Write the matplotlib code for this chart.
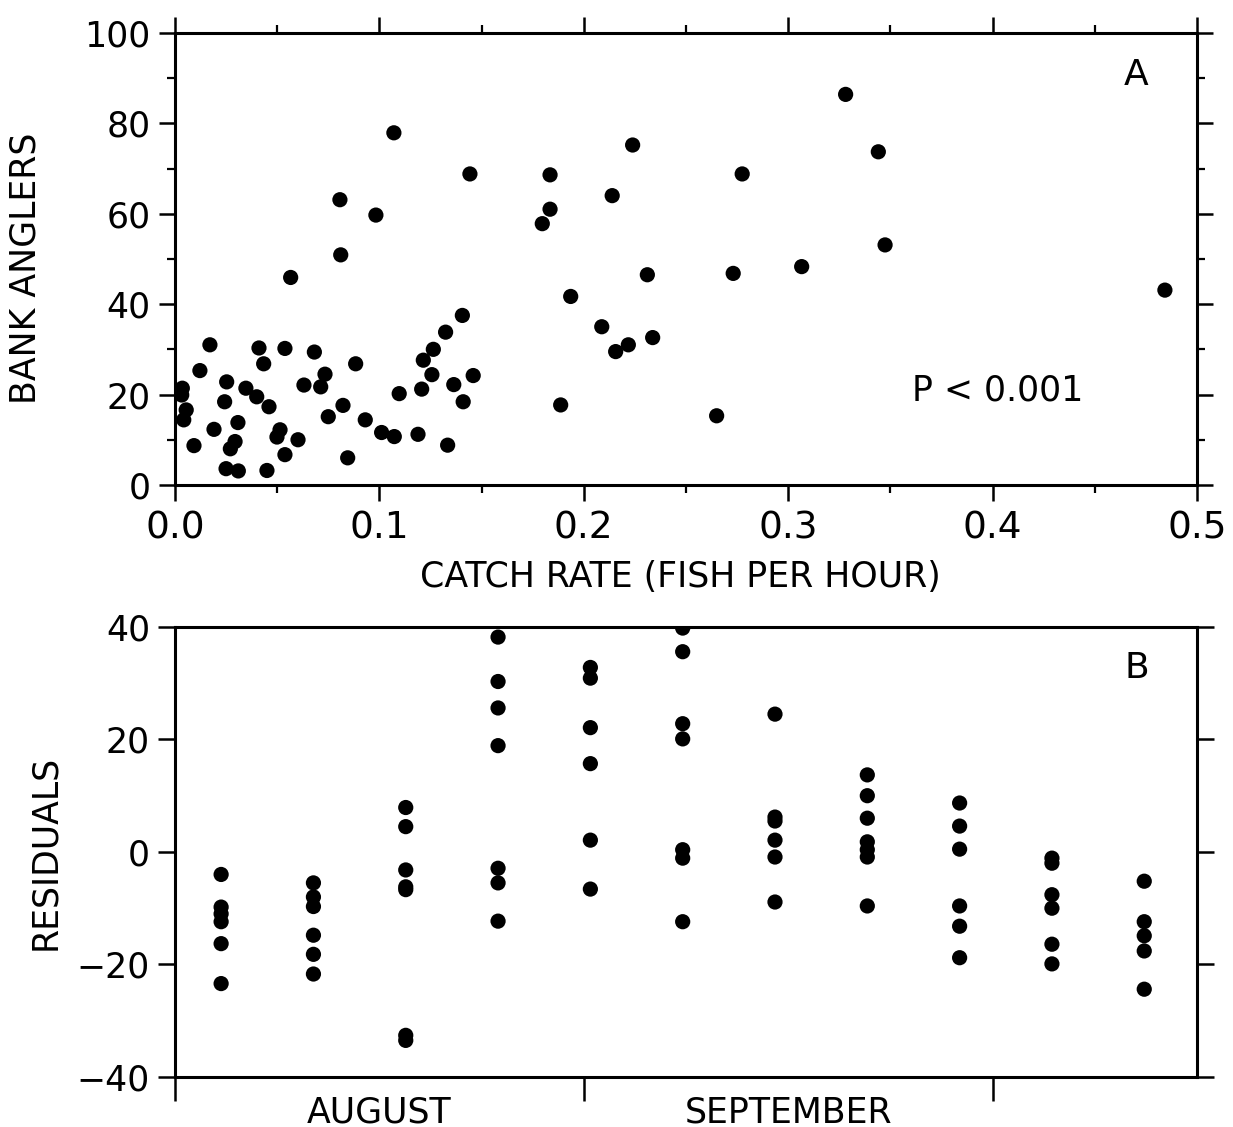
import matplotlib.pyplot as plt
from matplotlib.ticker import MultipleLocator

# Panel A: catch rate (fish per hour) vs number of bank anglers
catch_rate = [0.0811, 0.0566, 0.1406, 0.1324, 0.1264, 0.0171, 0.0122, 0.0411, 0.0538, 0.0682,
              0.0434, 0.0884, 0.1215, 0.0253, 0.0734, 0.0713, 0.0631, 0.0347, 0.0400, 0.0036,
              0.0033, 0.1257, 0.1459, 0.1364, 0.1207, 0.1097, 0.1410, 0.0822, 0.0460, 0.0243,
              0.0055, 0.0043, 0.0308, 0.0750, 0.0931, 0.0191, 0.0514, 0.0499, 0.0602, 0.1011,
              0.1073, 0.1189, 0.1334, 0.0294, 0.0271, 0.0093, 0.0538, 0.0845, 0.0250, 0.0310,
              0.0450, 0.0807, 0.1071, 0.0983, 0.1443,
              0.3281, 0.3441, 0.2239, 0.2775, 0.1835, 0.2139, 0.1835, 0.1797, 0.3474, 0.2311,
              0.2731, 0.3066, 0.1936, 0.2088, 0.2218, 0.2156, 0.2337, 0.1887, 0.2650, 0.4843]
bank_anglers = [50.9, 45.9, 37.5, 33.8, 30.0, 31.0, 25.3, 30.3, 30.2, 29.4,
                26.8, 26.8, 27.6, 22.8, 24.5, 21.7, 22.1, 21.4, 19.5, 21.4,
                19.9, 24.4, 24.2, 22.2, 21.2, 20.2, 18.4, 17.6, 17.3, 18.4,
                16.6, 14.4, 13.8, 15.1, 14.4, 12.3, 12.2, 10.6, 10.0, 11.6,
                10.7, 11.2, 8.8, 9.6, 8.0, 8.7, 6.7, 6.0, 3.6, 3.1,
                3.2, 63.1, 77.9, 59.7, 68.8,
                86.4, 73.7, 75.2, 68.8, 68.6, 64.0, 61.0, 57.8, 53.1, 46.5,
                46.8, 48.3, 41.7, 35.0, 31.0, 29.5, 32.6, 17.7, 15.3, 43.1]

# Panel B: residuals by week (day counted from 1 August)
week_day = [3.5, 10.5, 17.5, 24.5, 31.5, 38.5, 45.5, 52.5, 59.5, 66.5, 73.5]
residuals = [
    [-4.0, -9.8, -11.0, -12.4, -16.3, -23.4],
    [-5.5, -8.0, -9.7, -14.8, -18.2, -21.7],
    [7.9, 4.5, -3.2, -6.2, -6.7, -32.6, -33.5],
    [38.2, 30.3, 25.6, 18.9, -2.9, -5.5, -12.3],
    [32.8, 30.9, 22.1, 15.7, 2.1, -6.6],
    [39.8, 35.6, 22.8, 20.1, 0.4, -1.1, -12.4],
    [24.5, 6.2, 5.5, 2.1, -0.9, -8.9],
    [13.7, 10.0, 6.0, 1.8, 0.4, -0.9, -9.6],
    [8.7, 4.6, 0.5, -9.6, -13.2, -18.8],
    [-1.1, -2.0, -7.6, -10.0, -16.4, -19.9],
    [-5.2, -12.4, -14.9, -17.6, -24.4],
]
month_ticks = [0, 31, 62]
month_names = ['AUGUST', 'SEPTEMBER']
month_mid = [15.5, 46.5]

plt.rcParams['font.family'] = 'DejaVu Sans'

fig = plt.figure(figsize=(12.33, 11.27), dpi=100)
ax1 = fig.add_axes([0.1419, 0.5697, 0.8289, 0.4011])
ax2 = fig.add_axes([0.1419, 0.0444, 0.8289, 0.3993])

for ax in (ax1, ax2):
    for sp in ax.spines.values():
        sp.set_linewidth(2.2)

# --- panel A ---
ax1.scatter(catch_rate, bank_anglers, s=120, color='black', edgecolors='none', zorder=3)
ax1.set_xlim(0, 0.5)
ax1.set_ylim(0, 100)
ax1.xaxis.set_minor_locator(MultipleLocator(0.05))
ax1.yaxis.set_major_locator(MultipleLocator(20))
ax1.yaxis.set_minor_locator(MultipleLocator(10))
ax1.set_xticks([0, 0.1, 0.2, 0.3, 0.4, 0.5], ['0.0', '0.1', '0.2', '0.3', '0.4', '0.5'])
ax1.tick_params(axis='both', which='major', direction='out', length=11.5, width=1.8,
                top=True, right=True)
ax1.tick_params(axis='both', which='minor', direction='out', length=6, width=1.6,
                top=True, right=True)
ax1.tick_params(axis='x', labelsize=27, pad=7)
ax1.tick_params(axis='y', labelsize=25, pad=6)
ax1.set_xlabel('CATCH RATE (FISH PER HOUR)', fontsize=25)
ax1.xaxis.set_label_coords(0.495, -0.165)
ax1.set_ylabel('BANK ANGLERS', fontsize=25)
ax1.yaxis.set_label_coords(-0.13, 0.48)
ax1.text(0.47, 90.7, 'A', fontsize=26, ha='center', va='center')
ax1.text(0.4027, 21, 'P < 0.001', fontsize=25, ha='center', va='center')

# --- panel B ---
for d, vals in zip(week_day, residuals):
    ax2.scatter([d] * len(vals), vals, s=120, color='black', edgecolors='none', zorder=3)
ax2.set_xlim(0, 77.5)
ax2.set_ylim(-40, 40)
ax2.set_yticks([-40, -20, 0, 20, 40], ['\u221240', '\u221220', '0', '20', '40'])
ax2.set_xticks(month_ticks, ['', '', ''])
ax2.set_xticks(month_mid, month_names, minor=True)
ax2.tick_params(axis='x', which='major', direction='out', length=17, width=1.8)
ax2.tick_params(axis='x', which='minor', length=0, labelsize=25, pad=13)
ax2.tick_params(axis='y', which='major', direction='out', length=12, width=1.8,
                right=True, labelsize=25, pad=6)
ax2.set_ylabel('RESIDUALS', fontsize=25)
ax2.yaxis.set_label_coords(-0.11, 0.5)
ax2.text(72.9, 32.7, 'B', fontsize=26, ha='center', va='center')

plt.savefig('out.png', dpi=100)
